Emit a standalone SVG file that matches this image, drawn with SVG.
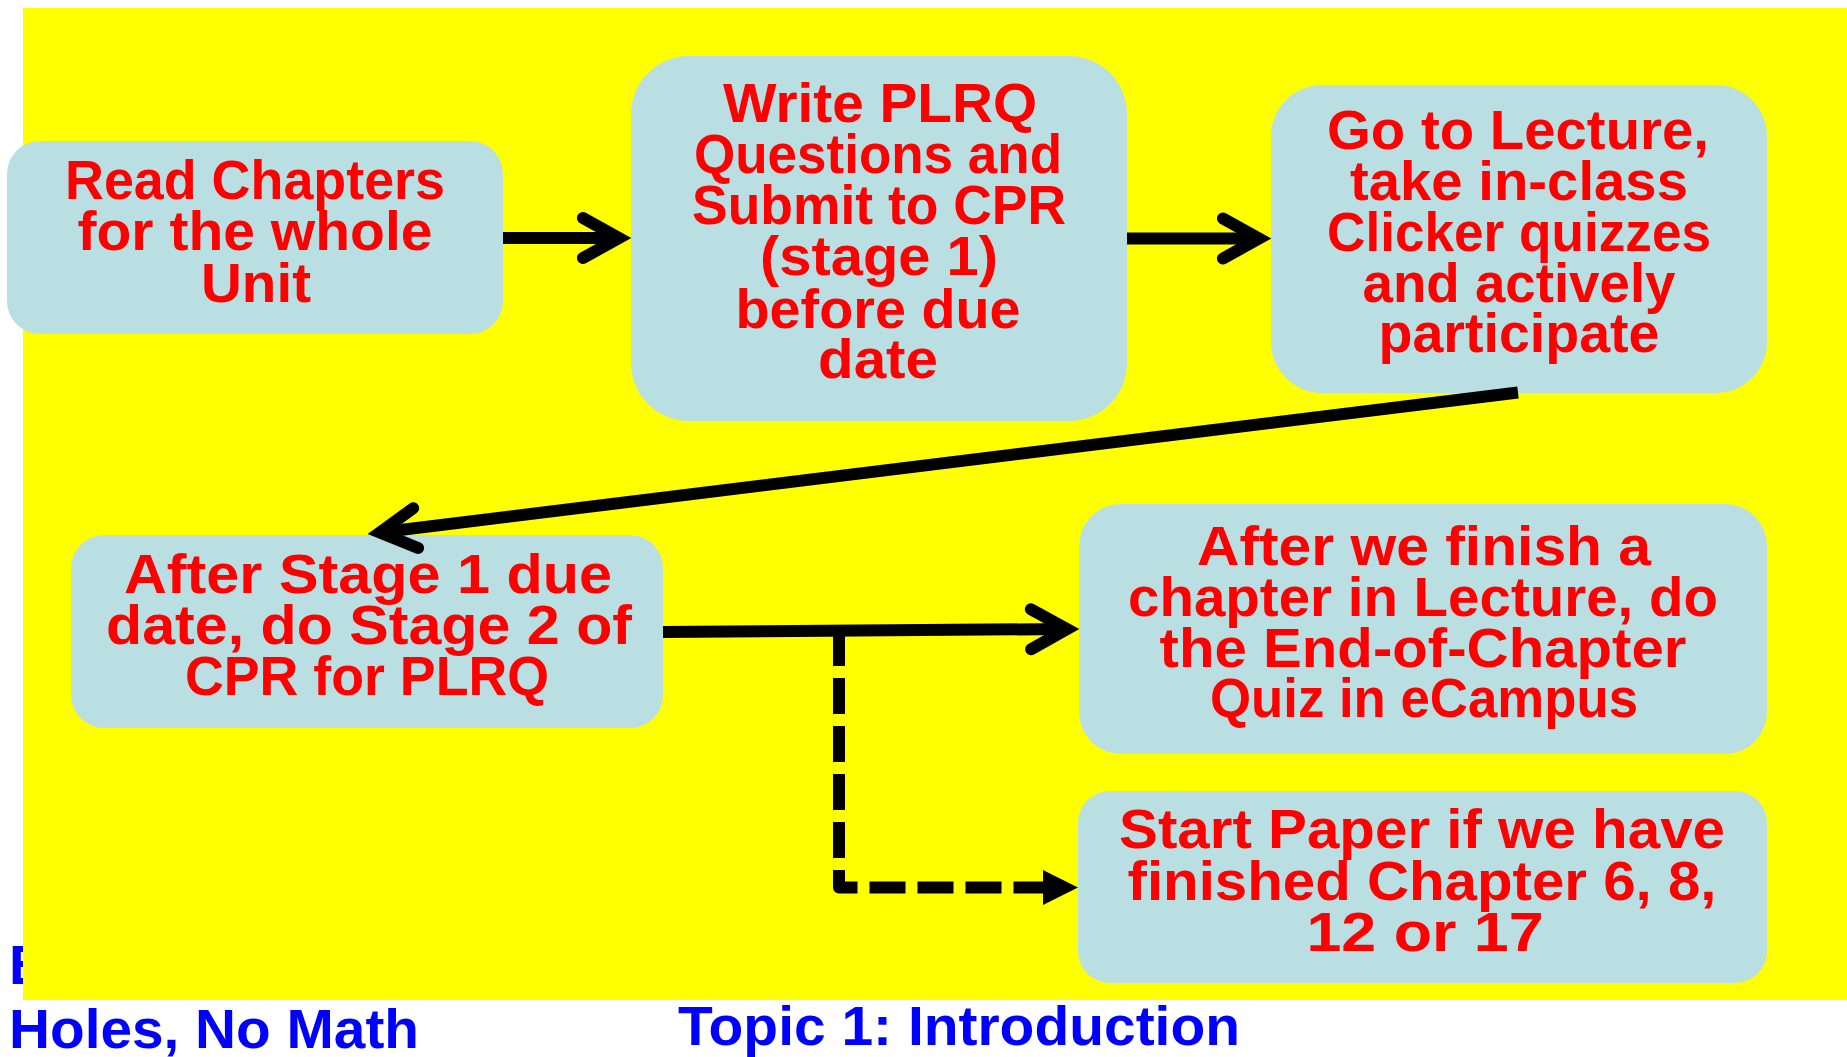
<svg xmlns="http://www.w3.org/2000/svg" width="1847" height="1057" viewBox="0 0 1847 1057">
  <style>
    .box { fill: #B9DFE3; }
    .t { font-family: "Comic Sans MS", "Liberation Sans", sans-serif; font-weight: bold; font-size: 56px; fill: #FF0000; text-anchor: middle; }
    .f { font-family: "Comic Sans MS", "Liberation Sans", sans-serif; font-weight: bold; font-size: 56px; fill: #0000FF; }
    .ln { fill: none; stroke: #000; stroke-width: 12; stroke-linecap: butt; }
    .dash { fill: none; stroke: #000; stroke-width: 12; stroke-linecap: butt; stroke-linejoin: round; stroke-dasharray: 36 12; }
  </style>
  <defs>
    <marker id="chev" markerUnits="userSpaceOnUse" viewBox="-60 -40 80 80" markerWidth="80" markerHeight="80" refX="0" refY="0" orient="auto" overflow="visible">
      <path d="M-36,-20 L0,0 L-36,20" fill="none" stroke="#000" stroke-width="12" stroke-linecap="round" stroke-linejoin="miter"/>
    </marker>
    <marker id="tri" markerUnits="userSpaceOnUse" viewBox="0 -20 40 40" markerWidth="40" markerHeight="40" refX="0" refY="0" orient="auto" overflow="visible">
      <path d="M0,-17.5 L35,0 L0,17.5 Z" fill="#000"/>
    </marker>
  </defs>

  <rect x="0" y="0" width="1847" height="1057" fill="#FFFFFF"/>

  <g id="footer">
    <text class="f" x="9" y="984">B</text>
    <text class="f" x="9" y="1048" textLength="410" lengthAdjust="spacingAndGlyphs">Holes, No Math</text>
    <text class="f" x="678" y="1045" textLength="562" lengthAdjust="spacingAndGlyphs">Topic 1: Introduction</text>
  </g>

  <rect id="background" x="23" y="8" width="1824" height="992" fill="#FFFF00"/>

  <g id="node-read">
    <rect class="box" x="7" y="141" width="496" height="193" rx="33" ry="33"/>
    <text class="t" x="255" y="199" textLength="380" lengthAdjust="spacingAndGlyphs">Read Chapters</text>
    <text class="t" x="255" y="250" textLength="355" lengthAdjust="spacingAndGlyphs">for the whole</text>
    <text class="t" x="256" y="302" textLength="110" lengthAdjust="spacingAndGlyphs">Unit</text>
  </g>

  <g id="node-write">
    <rect class="box" x="631" y="56" width="496" height="365" rx="58" ry="58"/>
    <text class="t" x="880" y="122" textLength="314" lengthAdjust="spacingAndGlyphs">Write PLRQ</text>
    <text class="t" x="878" y="173" textLength="368" lengthAdjust="spacingAndGlyphs">Questions and</text>
    <text class="t" x="879" y="224" textLength="374" lengthAdjust="spacingAndGlyphs">Submit to CPR</text>
    <text class="t" x="879" y="275" textLength="238" lengthAdjust="spacingAndGlyphs">(stage 1)</text>
    <text class="t" x="878" y="328" textLength="285" lengthAdjust="spacingAndGlyphs">before due</text>
    <text class="t" x="878" y="378" textLength="120" lengthAdjust="spacingAndGlyphs">date</text>
  </g>

  <g id="node-lecture">
    <rect class="box" x="1271" y="85" width="496" height="308" rx="51" ry="51"/>
    <text class="t" x="1518" y="149" textLength="382" lengthAdjust="spacingAndGlyphs">Go to Lecture,</text>
    <text class="t" x="1519" y="200" textLength="338" lengthAdjust="spacingAndGlyphs">take in-class</text>
    <text class="t" x="1519" y="251" textLength="384" lengthAdjust="spacingAndGlyphs">Clicker quizzes</text>
    <text class="t" x="1519" y="302" textLength="313" lengthAdjust="spacingAndGlyphs">and actively</text>
    <text class="t" x="1519" y="352" textLength="281" lengthAdjust="spacingAndGlyphs">participate</text>
  </g>

  <g id="node-stage2">
    <rect class="box" x="71" y="535" width="592" height="193" rx="33" ry="33"/>
    <text class="t" x="368" y="593" textLength="488" lengthAdjust="spacingAndGlyphs">After Stage 1 due</text>
    <text class="t" x="369" y="644" textLength="526" lengthAdjust="spacingAndGlyphs">date, do Stage 2 of</text>
    <text class="t" x="367" y="695" textLength="364" lengthAdjust="spacingAndGlyphs">CPR for PLRQ</text>
  </g>

  <g id="node-quiz">
    <rect class="box" x="1079" y="504" width="688" height="250" rx="42" ry="42"/>
    <text class="t" x="1424" y="565" textLength="454" lengthAdjust="spacingAndGlyphs">After we finish a</text>
    <text class="t" x="1423" y="616" textLength="590" lengthAdjust="spacingAndGlyphs">chapter in Lecture, do</text>
    <text class="t" x="1423" y="667" textLength="527" lengthAdjust="spacingAndGlyphs">the End-of-Chapter</text>
    <text class="t" x="1424" y="717" textLength="428" lengthAdjust="spacingAndGlyphs">Quiz in eCampus</text>
  </g>

  <g id="node-paper">
    <rect class="box" x="1078" y="791" width="689" height="192" rx="32" ry="32"/>
    <text class="t" x="1422" y="848" textLength="606" lengthAdjust="spacingAndGlyphs">Start Paper if we have</text>
    <text class="t" x="1422" y="900" textLength="589" lengthAdjust="spacingAndGlyphs">finished Chapter 6, 8,</text>
    <text class="t" x="1425" y="951" textLength="237" lengthAdjust="spacingAndGlyphs">12 or 17</text>
  </g>

  <g id="connectors">
    <path class="ln" d="M503,238 L619,238" marker-end="url(#chev)"/>
    <path class="ln" d="M1127,238.5 L1259,238.5" marker-end="url(#chev)"/>
    <path class="ln" d="M1518,392.5 L379.9,532.5" marker-end="url(#chev)"/>
    <path class="ln" d="M663,632 L1067,629" marker-end="url(#chev)"/>
    <path class="dash" d="M839,630 L839,887.5 L1043,887.5" marker-end="url(#tri)"/>
  </g>
</svg>
